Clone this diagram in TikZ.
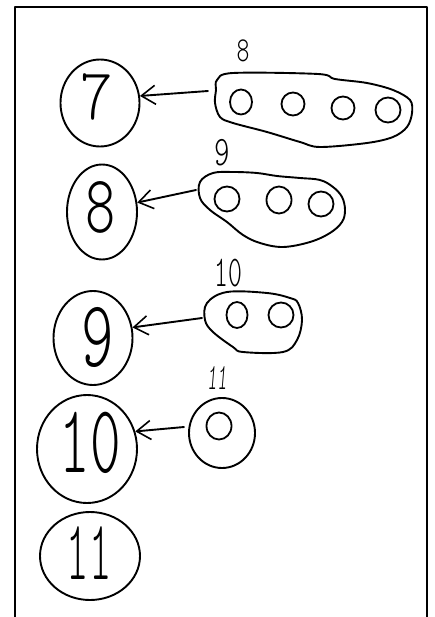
\documentclass[tikz,border=0pt]{standalone}
\usetikzlibrary{arrows.meta,shapes.geometric}
% thin hand-lettered numerals: Latin Modern Mono Light, squeezed horizontally
\newcommand\handnum[3]{\scalebox{#2}[1]{\fontfamily{lmtt}\fontseries{l}\fontsize{#1}{#1}\selectfont #3}}
\begin{document}
\begin{tikzpicture}[x=1pt,y=-1pt,
  ink/.style={line width=1.9pt, line join=round, line cap=round},
  blob/.style={ellipse, draw, line width=1.9pt, inner sep=0pt},
  ring/.style={ellipse, draw, line width=1.8pt, inner sep=0pt},
  numeral/.style={inner sep=0pt},
  link/.style={ink, -{Straight Barb[length=14pt,width=19pt,line width=1.6pt]}},
]
\useasboundingbox (0,0) rectangle (434,617);

% open frame
\draw[ink, line cap=butt] (15,617) -- (15,7) -- (427,7) -- (427,617);

% --- big numbered circles ---
\node[blob, minimum width=79pt, minimum height=87pt] (c7)  at (100,103) {};
\node[blob, minimum width=70pt, minimum height=95pt] (c8)  at (102,212) {};
\node[blob, minimum width=79pt, minimum height=94pt] (c9)  at (93,338) {};
\node[blob, minimum width=100pt, minimum height=108pt] (c10) at (87,449) {};
\node[blob, minimum width=100pt, minimum height=88pt] (c11) at (90,556) {};

\node[numeral] (d7)  at (97,97)  {\handnum{73}{0.85}{7}};
\node[numeral] (d8)  at (101,207) {\handnum{82}{0.7}{8}};
\node[numeral] (d9)  at (98,337) {\handnum{95}{0.65}{9}};
\node[numeral] (d10) at (90,443) {\handnum{97}{0.6}{10}};
\node[numeral] (d11) at (89,553) {\handnum{85}{0.5}{11}};

% --- group outlines ---
\draw[ink] plot[smooth cycle, tension=0.55] coordinates {
  (217,80) (233,73) (318,74) (335,79) (367,83) (393,90) (410,100)
  (412,113) (407,127) (393,137) (367,143) (320,147) (300,142)
  (267,132) (233,123) (220,117) (215,103) (216,90)};
\draw[ink] plot[smooth cycle, tension=0.6] coordinates {
  (200,182) (213,173) (233,172) (257,173) (277,176) (300,178) (320,180)
  (333,187) (342,197) (345,210) (342,222) (330,233) (310,242) (283,247)
  (260,243) (243,235) (227,222) (210,210) (200,198)};
\draw[ink] plot[smooth cycle, tension=0.6] coordinates {
  (207,303) (227,292) (267,293) (290,298) (298,303) (302,320) (297,340)
  (283,352) (243,352) (233,347) (213,332) (205,320)};
\node[blob, minimum width=66pt, minimum height=70pt] (g4) at (222,433) {};

% --- members of each group ---
\node[ring, minimum width=22pt, minimum height=25pt] (a1) at (241,102) {};
\node[ring, minimum width=23pt, minimum height=23pt] (a2) at (293,104) {};
\node[ring, minimum width=23pt, minimum height=23pt] (a3) at (343,108) {};
\node[ring, minimum width=25pt, minimum height=25pt] (a4) at (388,110) {};

\node[ring, minimum width=25pt, minimum height=25pt] (b1) at (227,199) {};
\node[ring, minimum width=25pt, minimum height=27pt] (b2) at (279,200) {};
\node[ring, minimum width=25pt, minimum height=25pt] (b3) at (321,204) {};

\node[ring, minimum width=21pt, minimum height=26pt] (e1) at (237,315) {};
\node[ring, minimum width=25pt, minimum height=25pt] (e2) at (281,315) {};

\node[ring, minimum width=25pt, minimum height=27pt] (f1) at (219,426) {};

% --- group labels ---
\node[numeral] (l8)  at (243,51)  {\handnum{35}{0.7}{8}};
\node[numeral] (l9)  at (222,153) {\handnum{42}{0.7}{9}};
\node[numeral] (l10) at (228,273) {\handnum{44}{0.6}{10}};
\node[numeral] (l11) at (217,378) {\handnum{37}{0.5}{\slshape 11}};

% --- arrows from each group to its count ---
\coordinate (s1) at (208,91);
\coordinate (s2) at (196,190);
\coordinate (s3) at (202,318);
\coordinate (s4) at (184,427);
\draw[link] (s1) -- (c7.10);
\draw[link] (s2) -- (c8.15);
\draw[link] (s3) -- (c9.15);
\draw[link] (s4) -- (c10.20);
\end{tikzpicture}
\end{document}
